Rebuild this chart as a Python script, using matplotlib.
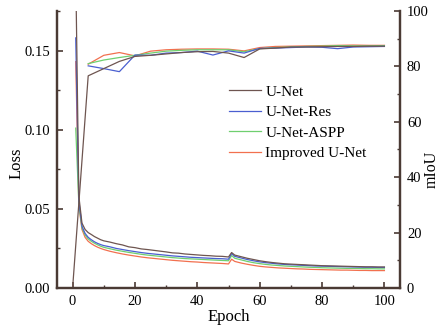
import numpy as np
import matplotlib.pyplot as plt
from matplotlib.ticker import MultipleLocator

plt.rcParams['font.family'] = ['Liberation Serif', 'DejaVu Serif']

names = ['U-Net', 'U-Net-Res', 'U-Net-ASPP', 'Improved U-Net']
colors = ['#6e5550', '#4a5fd0', '#6fcf6f', '#f2704f']

# loss, read every epoch early on, then every 2 epochs
loss_ep = [1, 2, 3, 4, 5, 6, 7, 8, 9, 10, 12, 14, 16, 18, 20, 22, 24, 26, 28, 30,
           32, 34, 36, 38, 40, 42, 44, 46, 48, 50, 51, 52, 54, 56, 58, 60, 62, 64,
           66, 68, 70, 72, 74, 76, 78, 80, 82, 84, 86, 88, 90, 92, 94, 96, 98, 100]

loss_unet = [0.200, 0.058, 0.041, 0.0370, 0.0350, 0.0338, 0.0325, 0.0315, 0.0305, 0.0298,
             0.0290, 0.0280, 0.0272, 0.0260, 0.0255, 0.0247, 0.0243, 0.0238, 0.0233, 0.0228,
             0.0222, 0.0220, 0.0215, 0.0212, 0.0209, 0.0206, 0.0204, 0.0201, 0.0200, 0.0196,
             0.0224, 0.0208, 0.0198, 0.0188, 0.0180, 0.0172, 0.0166, 0.0161, 0.0157, 0.0153,
             0.0151, 0.0149, 0.0147, 0.0145, 0.0143, 0.0141, 0.0140, 0.0139, 0.0138, 0.0137,
             0.0136, 0.0135, 0.0134, 0.0134, 0.0133, 0.0133]
loss_res = [0.158, 0.055, 0.039, 0.0345, 0.0320, 0.0305, 0.0292, 0.0282, 0.0274, 0.0268,
            0.0260, 0.0250, 0.0243, 0.0236, 0.0230, 0.0224, 0.0219, 0.0215, 0.0211, 0.0207,
            0.0203, 0.0200, 0.0197, 0.0194, 0.0192, 0.0190, 0.0188, 0.0186, 0.0185, 0.0182,
            0.0218, 0.0200, 0.0190, 0.0180, 0.0172, 0.0165, 0.0160, 0.0156, 0.0152, 0.0149,
            0.0147, 0.0145, 0.0143, 0.0141, 0.0139, 0.0138, 0.0137, 0.0136, 0.0135, 0.0134,
            0.0133, 0.0132, 0.0131, 0.0131, 0.0130, 0.0130]
loss_aspp = [0.101, 0.053, 0.038, 0.0335, 0.0310, 0.0295, 0.0283, 0.0273, 0.0264, 0.0257,
             0.0248, 0.0239, 0.0232, 0.0225, 0.0219, 0.0213, 0.0208, 0.0204, 0.0200, 0.0196,
             0.0192, 0.0189, 0.0186, 0.0184, 0.0182, 0.0180, 0.0178, 0.0176, 0.0174, 0.0172,
             0.0205, 0.0188, 0.0178, 0.0168, 0.0160, 0.0154, 0.0149, 0.0145, 0.0142, 0.0139,
             0.0137, 0.0135, 0.0133, 0.0131, 0.0130, 0.0128, 0.0127, 0.0126, 0.0125, 0.0124,
             0.0124, 0.0123, 0.0122, 0.0122, 0.0121, 0.0121]
loss_imp = [0.143, 0.052, 0.037, 0.0320, 0.0295, 0.0280, 0.0268, 0.0258, 0.0250, 0.0243,
            0.0232, 0.0223, 0.0215, 0.0208, 0.0202, 0.0196, 0.0191, 0.0187, 0.0183, 0.0179,
            0.0175, 0.0172, 0.0169, 0.0166, 0.0164, 0.0161, 0.0159, 0.0157, 0.0155, 0.0152,
            0.0182, 0.0168, 0.0158, 0.0150, 0.0143, 0.0137, 0.0133, 0.0130, 0.0127, 0.0125,
            0.0123, 0.0121, 0.0120, 0.0118, 0.0117, 0.0116, 0.0115, 0.0114, 0.0113, 0.0113,
            0.0112, 0.0111, 0.0111, 0.0110, 0.0110, 0.0110]

# mIoU, evaluated every 5 epochs (U-Net also has epoch 0)
miou_ep = [5, 10, 15, 20, 25, 30, 35, 40, 45, 50, 55, 60, 65, 70, 75, 80, 85, 90, 95, 100]
miou_unet = [0.0, 76.6, 79.2, 81.8, 83.6, 84.0, 84.5, 85.0, 85.3, 85.4, 84.8, 83.2, 86.3,
             86.6, 87.0, 87.0, 87.1, 87.2, 87.2, 87.3, 87.3]
miou_res = [80.2, 79.2, 78.1, 84.1, 84.0, 84.8, 85.0, 85.5, 84.1, 85.6, 84.8, 86.5, 86.6,
            86.8, 87.0, 86.9, 86.4, 87.0, 87.1, 87.2]
miou_aspp = [81.0, 82.3, 83.2, 84.0, 84.8, 85.5, 85.8, 86.0, 86.0, 86.0, 85.3, 86.4, 86.8,
             87.0, 87.2, 87.3, 87.5, 87.4, 87.4, 87.5]
miou_imp = [80.8, 84.0, 85.0, 83.8, 85.5, 86.0, 86.2, 86.3, 86.3, 86.2, 85.6, 86.8, 87.2,
            87.3, 87.4, 87.5, 87.6, 87.7, 87.6, 87.6]

spine_c = '#4a3a34'

fig = plt.figure(figsize=(4.41, 3.29), dpi=100)
ax = fig.add_axes([0.1293, 0.1246, 0.7777, 0.842])
ax2 = ax.twinx()

losses = [loss_unet, loss_res, loss_aspp, loss_imp]
mious = [miou_unet, miou_res, miou_aspp, miou_imp]
for i in [3, 2, 1, 0]:
    ax.plot(loss_ep, losses[i], color=colors[i], lw=0.9)
lines = []
for i in [3, 2, 1, 0]:
    ep = [0] + miou_ep if i == 0 else miou_ep
    ln, = ax2.plot(ep, mious[i], color=colors[i], lw=0.9)
    lines.append(ln)
lines = lines[::-1]

ax.set_xlim(-5, 105)
ax.set_ylim(0, 0.175)
ax2.set_ylim(0, 100)

ax.xaxis.set_major_locator(MultipleLocator(20))
ax.xaxis.set_minor_locator(MultipleLocator(10))
ax.yaxis.set_major_locator(MultipleLocator(0.05))
ax.yaxis.set_minor_locator(MultipleLocator(0.025))
ax2.yaxis.set_major_locator(MultipleLocator(20))
ax2.yaxis.set_minor_locator(MultipleLocator(10))
ax.yaxis.set_major_formatter(plt.FormatStrFormatter('%.2f'))

for a in (ax, ax2):
    a.spines['top'].set_visible(False)
    for s in ['left', 'right', 'bottom']:
        a.spines[s].set_color(spine_c)
        a.spines[s].set_linewidth(1.6)
    a.tick_params(which='major', direction='in', length=4, width=1.2, color=spine_c,
                  labelsize=10.5, pad=5)
    a.tick_params(which='minor', direction='in', length=2.5, width=1.0, color=spine_c)

ax.set_xlabel('Epoch', fontsize=12, labelpad=1)
ax.set_ylabel('Loss', fontsize=12)
ax.yaxis.set_label_coords(-0.095, 0.45)
ax2.set_ylabel('mIoU', fontsize=11.5, rotation=90)
ax2.yaxis.set_label_coords(1.07, 0.43)

ax2.legend(lines, names, loc='upper left', bbox_to_anchor=(0.50, 0.733),
           frameon=False, fontsize=11, handlelength=2.1, handletextpad=0.3,
           labelspacing=0.45, borderpad=0, borderaxespad=0)

fig.savefig('out.png', dpi=100)
